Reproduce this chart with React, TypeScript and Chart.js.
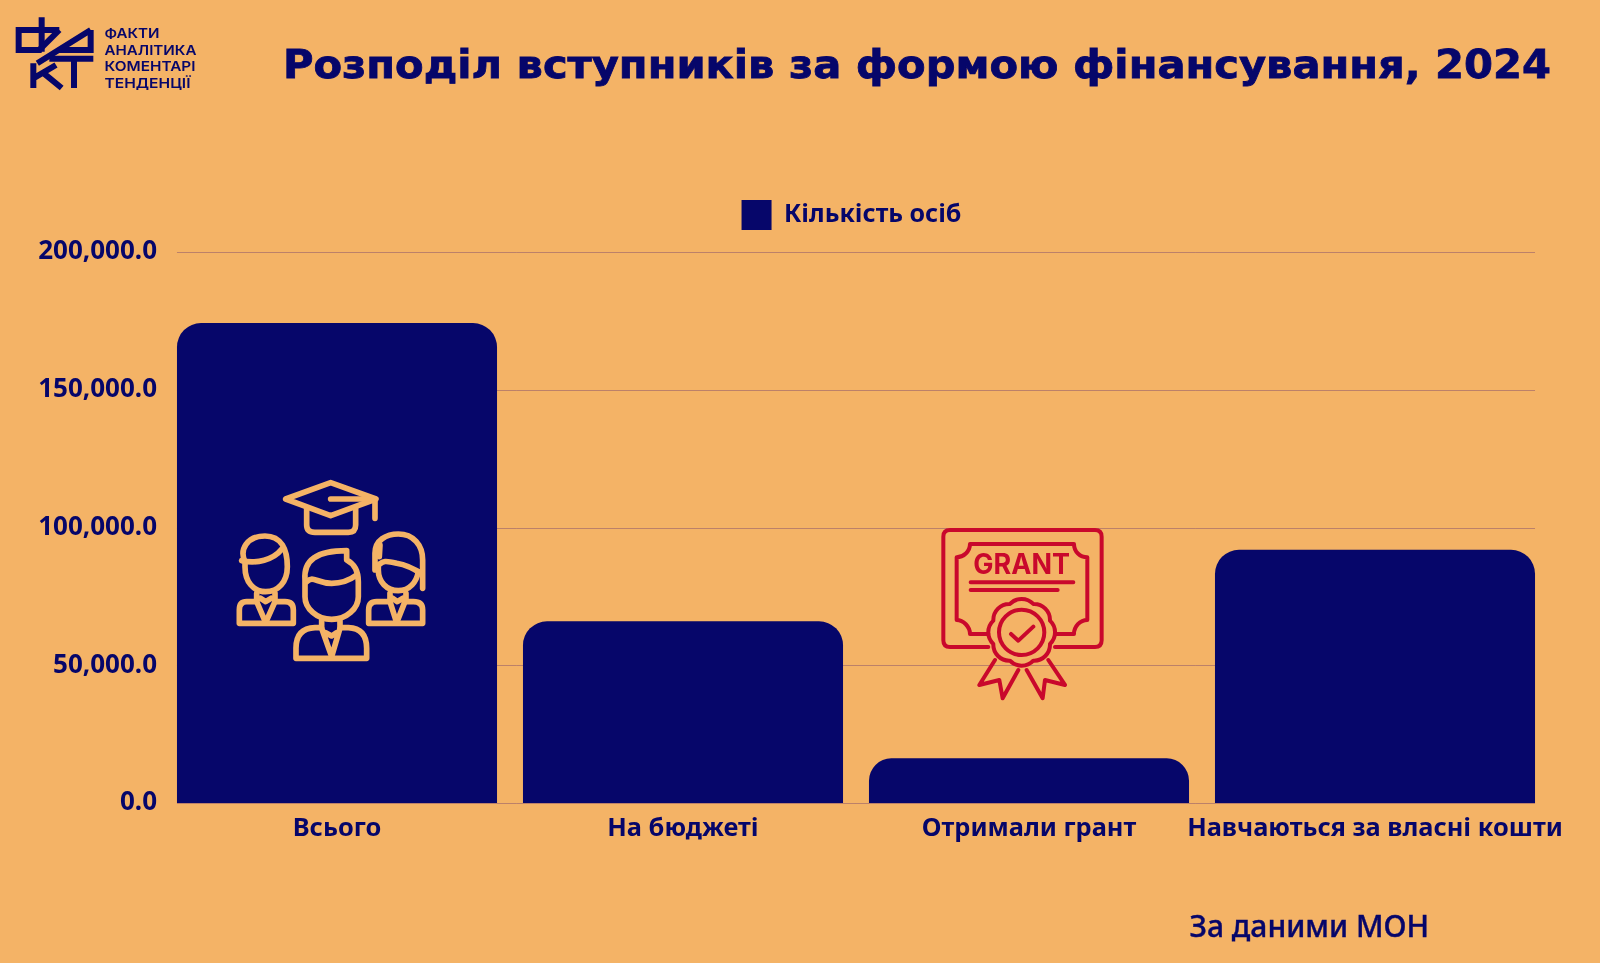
import React, { useEffect, useRef } from "react";
import { Chart, registerables } from "chart.js";

Chart.register(...registerables);

const categories = ["Всього", "На бюджеті", "Отримали грант", "Навчаються за власні кошти"];
const seriesLabel = "Кількість осіб";
const seriesValues = [174200, 65950, 16200, 91900];
const yTicks = [0, 50000, 100000, 150000, 200000];
const titleText = "Розподіл вступників за формою фінансування, 2024";
const sourceText = "За даними МОН";
const logoLines = ["ФАКТИ", "АНАЛІТИКА", "КОМЕНТАРІ", "ТЕНДЕНЦІЇ"];

const BG = "#F4B366";
const NAVY = "#06066A";
const RED = "#C9082C";
const GRID = "rgba(110,60,110,0.42)";
const FONT = "'Noto Sans', sans-serif";

const bgAndGrid = {
  id: "bgAndGrid",
  beforeInit(chart: any) {
    const fit = chart.legend.fit;
    chart.legend.fit = function () {
      fit.call(this);
      this.height += 12;
    };
  },
  afterLayout(chart: any) {
    chart.legend.left -= 4.5;
    chart.legend.right -= 4.5;
  },
  beforeDraw(chart: any) {
    const { ctx, width, height } = chart;
    ctx.save();
    ctx.fillStyle = BG;
    ctx.fillRect(0, 0, width, height);
    ctx.restore();
  },
  beforeDatasetsDraw(chart: any) {
    const { ctx, scales } = chart;
    const meta = chart.getDatasetMeta(0).data;
    const left = meta[0].x - meta[0].width / 2;
    const last = meta[meta.length - 1];
    const right = last.x + last.width / 2;
    ctx.save();
    ctx.strokeStyle = GRID;
    ctx.lineWidth = 1;
    scales.y.ticks.forEach((t: any) => {
      const y = Math.round(scales.y.getPixelForValue(t.value)) + 0.5;
      ctx.beginPath();
      ctx.moveTo(left, y);
      ctx.lineTo(right, y);
      ctx.stroke();
    });
    ctx.restore();
  },
};

function Overlay() {
  return (
    <svg
      width={1600}
      height={963}
      viewBox="0 0 1600 963"
      style={{ position: "absolute", left: 0, top: 0, pointerEvents: "none" }}
    >
      {/* Title and source */}
      <text x={283} y={77.5} textLength={1268} lengthAdjust="spacingAndGlyphs" fill={NAVY} stroke={NAVY} strokeWidth={0.8}
        style={{ font: "700 39px 'DejaVu Sans', sans-serif" }}>{titleText}</text>
      <text x={1189.5} y={937} textLength={239.5} lengthAdjust="spacingAndGlyphs" fill={NAVY} stroke={NAVY} strokeWidth={0.4}
        style={{ font: "500 30px 'Noto Sans', sans-serif" }}>{sourceText}</text>

      {/* Logo */}
      <g transform="scale(0.3333)" fill="none" stroke={NAVY} strokeWidth={18}>
        <path d="M125,52 L125,155 M178,90 L56,90 L56,150 L125,150" />
        <path d="M178,90 L118,150" />
        <path d="M272,90 L112,190 M272,90 L272,150 L172,150" />
        <path d="M100,190 L100,264 M100,235 L168,195 M125,215 L185,264" />
        <path d="M148,176 L280,176 M222,176 L222,264" />
      </g>
      {logoLines.map((l, i) => (
        <text key={l} x={104.5} y={38 + i * 16.7}
          textLength={[55, 92, 91, 86][i]} lengthAdjust="spacingAndGlyphs" fill={NAVY}
          style={{ font: "600 13.5px Inter, sans-serif" }}>{l}</text>
      ))}

      {/* Students icon */}
      <g transform="translate(200 460) scale(0.3333)" fill="none" stroke={BG} strokeWidth={17}
        strokeLinecap="round" strokeLinejoin="round">
        <path d="M257,117 L392,68 L528,117 L392,167 Z" />
        <path d="M392,117 L525,117 L525,175" />
        <path d="M320,145 L320,195 Q320,217 345,217 L445,217 Q467,217 467,195 L467,145" />
        <path d="M135,305 C118,270 140,228 195,228 C245,228 262,270 262,320 C262,365 235,395 197,395 C160,395 135,365 135,320 Z" />
        <path d="M125,302 C170,312 220,300 245,268" />
        <path d="M170,400 L170,425 L140,425 Q118,425 118,450 L118,490 L280,490 L280,450 Q280,425 255,425 L225,425 L225,400" />
        <path d="M170,425 L197,488 L225,425 M182,415 L197,425 L213,415" />
        <path d="M315,360 C310,300 350,272 440,272 L440,300 C470,315 475,340 475,365 L475,410 C475,445 440,478 395,478 C350,478 315,445 315,410 Z" />
        <path d="M320,365 C340,345 350,370 395,370 C430,370 450,360 470,345" />
        <path d="M365,482 L365,503 L345,503 Q288,505 288,565 L288,595 L500,595 L500,565 Q500,505 445,503 L420,503 L420,482" />
        <path d="M365,505 L395,590 L420,505 M377,518 L395,528 L410,518" />
        <path d="M525,330 L525,280 C525,240 560,222 595,222 C640,222 668,255 668,300 L668,385" />
        <path d="M535,320 L535,330 C535,365 560,392 595,392 C630,392 650,365 655,335" />
        <path d="M535,315 C550,305 550,300 590,310 C620,315 640,325 665,342 M540,255 L538,290" />
        <path d="M570,400 L570,425 L530,425 Q506,425 506,450 L506,490 L668,490 L668,450 Q668,425 640,425 L618,425 L618,400" />
        <path d="M570,425 L590,488 L615,425 M578,415 L592,425 L608,415" />
      </g>

      {/* Grant icon */}
      <g transform="translate(920 510) scale(0.3333)" fill="none" stroke={RED} strokeWidth={12}
        strokeLinecap="round" strokeLinejoin="round">
        <path d="M205,411 L90,411 Q70,411 70,391 L70,80 Q70,60 90,60 L525,60 Q545,60 545,80 L545,391 Q545,411 525,411 L405,411" />
        <path d="M205,372 L150,372 C150,350 130,330 110,330 L110,142 C130,142 150,125 150,102 L462,102 C462,125 480,142 502,142 L502,330 C480,330 462,350 462,372 L405,372" />
        <text x={160} y={193} textLength={290} lengthAdjust="spacingAndGlyphs" fill={RED} stroke="none"
          style={{ font: "700 86px Inter, sans-serif" }}>GRANT</text>
        <path d="M152,217 L460,217 M152,240 L413,240" />
        <path d="M390,402 A48,48 0 0 1 340,452 A48,48 0 0 1 270,452 A48,48 0 0 1 220,402 A48,48 0 0 1 220,332 A48,48 0 0 1 270,282 A48,48 0 0 1 340,282 A48,48 0 0 1 390,332 A48,48 0 0 1 390,402 Z" />
        <circle cx={305} cy={367} r={68} />
        <path d="M273,372 L295,392 L340,350" />
        <path d="M225,450 L178,525 L238,510 L248,565 L295,480 M385,450 L435,525 L375,510 L368,565 L320,480" />
      </g>
    </svg>
  );
}

export default function App() {
  const ref = useRef<HTMLCanvasElement>(null);

  useEffect(() => {
    const chart = new Chart(ref.current as HTMLCanvasElement, {
      type: "bar",
      data: {
        labels: categories,
        datasets: [
          {
            label: seriesLabel,
            data: seriesValues,
            backgroundColor: NAVY,
            borderWidth: 0,
            borderRadius: { topLeft: 24, topRight: 24, bottomLeft: 0, bottomRight: 0 },
            borderSkipped: false,
            barPercentage: 0.925,
            categoryPercentage: 1,
          },
        ],
      },
      options: {
        responsive: false,
        animation: false,
        devicePixelRatio: 1,
        layout: { padding: { top: 178, right: 52, bottom: 0, left: 0 } },
        plugins: {
          title: { display: false },
          tooltip: { enabled: false },
          legend: {
            display: true,
            position: "top",
            fullSize: false,
            labels: {
              boxWidth: 30,
              boxHeight: 30,
              padding: 22,
              color: NAVY,
              font: { family: FONT, size: 25, weight: "700" },
            },
          },
        },
        scales: {
          x: {
            grid: { display: false, drawTicks: false },
            border: { display: false },
            ticks: {
              color: NAVY,
              padding: 11,
              maxRotation: 0,
              autoSkip: false,
              font: { family: FONT, size: 25.4, weight: "700" },
            },
            afterFit(s: any) {
              s.height = 160;
            },
          },
          y: {
            min: 0,
            max: 200000,
            afterBuildTicks(s: any) {
              s.ticks = yTicks.map((value) => ({ value }));
            },
            grid: { display: false, drawTicks: false },
            border: { display: false },
            ticks: {
              color: NAVY,
              padding: 7,
              font: { family: FONT, size: 26, weight: "700" },
              callback: (v: any) =>
                Number(v).toLocaleString("en-US", { minimumFractionDigits: 1, maximumFractionDigits: 1 }),
            },
            afterFit(s: any) {
              s.width = 164;
            },
          },
        },
      },
      plugins: [bgAndGrid],
    } as any);
    return () => chart.destroy();
  }, []);

  return (
    <div style={{ position: "relative", width: 1600, height: 963, background: BG, overflow: "hidden" }}>
      <style>{`html,body{margin:0;padding:0;background:${BG};overflow:hidden}`}</style>
      <canvas ref={ref} width={1600} height={963} style={{ display: "block" }} />
      <Overlay />
    </div>
  );
}
